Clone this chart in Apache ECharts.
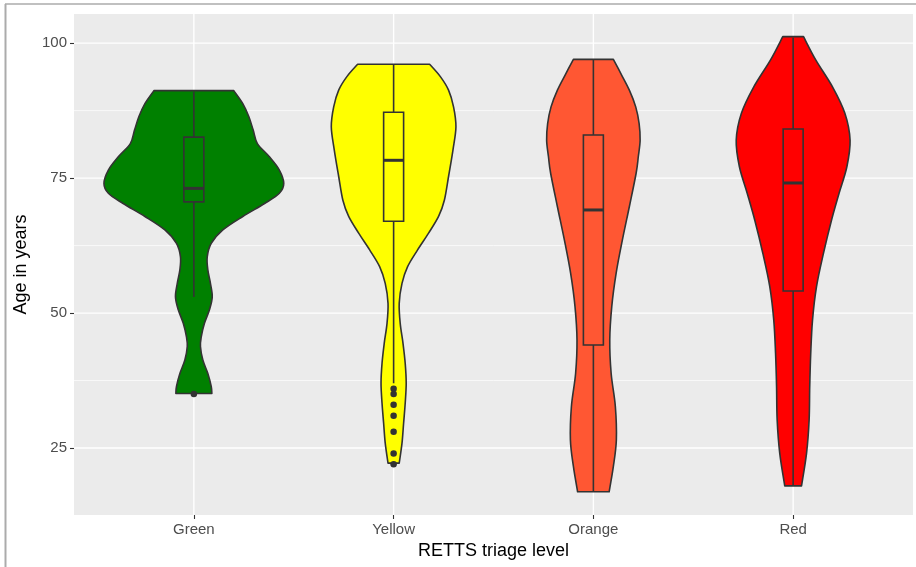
<!DOCTYPE html>
<html>
<head>
<meta charset="utf-8">
<title>Age by RETTS triage level</title>
<script src="https://cdn.jsdelivr.net/npm/echarts@6/dist/echarts.min.js"></script>
<style>
  html, body { margin: 0; padding: 0; background: #ffffff; }
  #chart { width: 916px; height: 567px; }
</style>
</head>
<body>
<div id="chart"></div>
<script>
// Triage levels on the x axis, in order
const categories = ['Green', 'Yellow', 'Orange', 'Red'];
const fillColors = ['#008000', '#FFFF00', '#FF5733', '#FF0000'];

// Violin outlines: age (years) and half-width (in category units), top to bottom
const greenAges = [91.2, 88.8, 86.4, 83.9, 81.4, 79.0, 76.5, 74.0, 72.2, 70.3, 67.9, 65.4, 62.9, 60.4, 58.0, 55.5, 53.0, 50.6, 48.1, 45.6, 43.8, 41.3, 38.8, 36.4, 35.1];
const greenHalfWidth = [0.200, 0.245, 0.275, 0.297, 0.318, 0.377, 0.428, 0.450, 0.428, 0.354, 0.245, 0.145, 0.087, 0.067, 0.070, 0.083, 0.092, 0.078, 0.053, 0.037, 0.033, 0.045, 0.070, 0.087, 0.090];

const yellowAges = [96.1, 93.8, 91.3, 88.2, 84.5, 80.2, 75.3, 70.9, 67.9, 64.8, 61.7, 58.6, 55.5, 51.8, 48.1, 44.4, 40.7, 37.0, 33.3, 29.6, 25.9, 22.2];
const yellowHalfWidth = [0.180, 0.234, 0.275, 0.300, 0.312, 0.297, 0.275, 0.254, 0.225, 0.175, 0.120, 0.070, 0.042, 0.028, 0.033, 0.047, 0.058, 0.063, 0.058, 0.050, 0.042, 0.028];

const orangeAges = [97.0, 94.4, 91.3, 88.2, 85.1, 82.0, 79.0, 75.9, 69.7, 63.5, 57.4, 51.2, 45.0, 38.8, 32.7, 26.5, 21.6, 16.9];
const orangeHalfWidth = [0.100, 0.137, 0.180, 0.212, 0.229, 0.234, 0.225, 0.214, 0.180, 0.145, 0.114, 0.092, 0.082, 0.089, 0.110, 0.115, 0.100, 0.079];

const redAges = [101.2, 96.9, 91.9, 87.0, 82.0, 77.1, 72.2, 67.2, 61.1, 54.9, 48.7, 42.5, 36.4, 30.2, 24.0, 18.0];
const redHalfWidth = [0.052, 0.113, 0.197, 0.259, 0.285, 0.269, 0.230, 0.192, 0.152, 0.117, 0.097, 0.088, 0.083, 0.080, 0.067, 0.042];

// Boxplot statistics per triage level
const whiskerLow = [53, 37, 17, 18];
const quartile1 = [70.6, 67.0, 44.1, 54.1];
const medians = [73.1, 78.3, 69.1, 74.1];
const quartile3 = [82.6, 87.2, 83.0, 84.1];
const whiskerHigh = [91, 96, 97, 101];

// Outlying ages drawn as points
const greenOutliers = [35];
const yellowOutliers = [36, 35, 33, 31, 28, 24, 22];

// Axis breaks
const yBreaks = [25, 50, 75, 100];
const yMinorBreaks = [37.5, 62.5, 87.5];
const xBreaks = [1, 2, 3, 4];

const violinAges = [greenAges, yellowAges, orangeAges, redAges];
const violinHalfWidths = [greenHalfWidth, yellowHalfWidth, orangeHalfWidth, redHalfWidth];

const outlineColor = '#333333';
const BOX_HALF = 0.05;
const LINE_W = 1.6;

// Catmull-Rom curve through pixel points, as cubic Bezier path commands
function smoothSide(pts) {
  let d = '';
  const n = pts.length;
  for (let i = 0; i < n - 1; i++) {
    const p0 = pts[Math.max(i - 1, 0)], p1 = pts[i], p2 = pts[i + 1], p3 = pts[Math.min(i + 2, n - 1)];
    const c1x = p1[0] + (p2[0] - p0[0]) / 6, c1y = p1[1] + (p2[1] - p0[1]) / 6;
    const c2x = p2[0] - (p3[0] - p1[0]) / 6, c2y = p2[1] - (p3[1] - p1[1]) / 6;
    d += ' C' + c1x + ',' + c1y + ' ' + c2x + ',' + c2y + ' ' + p2[0] + ',' + p2[1];
  }
  return d;
}

function renderViolin(params, api) {
  const i = params.dataIndex;
  const pos = api.value(0);
  const ages = violinAges[i];
  const hw = violinHalfWidths[i];
  const right = ages.map((a, k) => api.coord([pos + hw[k], a]));
  const leftUp = ages.map((a, k) => api.coord([pos - hw[k], a])).reverse();
  const top = leftUp[leftUp.length - 1];
  let d = 'M' + top[0] + ',' + top[1] + ' L' + right[0][0] + ',' + right[0][1];
  d += smoothSide(right);
  d += ' L' + leftUp[0][0] + ',' + leftUp[0][1];
  d += smoothSide(leftUp);
  d += ' Z';
  return {
    type: 'path',
    shape: { pathData: d },
    style: { fill: fillColors[i], stroke: outlineColor, lineWidth: LINE_W, lineJoin: 'round' }
  };
}

function renderBox(params, api) {
  const i = params.dataIndex;
  const x = api.value(0);
  const lo = api.coord([x, api.value(1)]);
  const b1 = api.coord([x - BOX_HALF, api.value(2)]);
  const med1 = api.coord([x - BOX_HALF, api.value(3)]);
  const med2 = api.coord([x + BOX_HALF, api.value(3)]);
  const b3 = api.coord([x + BOX_HALF, api.value(4)]);
  const hi = api.coord([x, api.value(5)]);
  const q1c = api.coord([x, api.value(2)]);
  const q3c = api.coord([x, api.value(4)]);
  const lineStyle = { stroke: outlineColor, lineWidth: LINE_W };
  return {
    type: 'group',
    children: [
      { type: 'line', shape: { x1: hi[0], y1: hi[1], x2: q3c[0], y2: q3c[1] }, style: lineStyle },
      { type: 'line', shape: { x1: q1c[0], y1: q1c[1], x2: lo[0], y2: lo[1] }, style: lineStyle },
      {
        type: 'rect',
        shape: { x: b1[0], y: b3[1], width: b3[0] - b1[0], height: b1[1] - b3[1] },
        style: { fill: fillColors[i], stroke: outlineColor, lineWidth: LINE_W }
      },
      { type: 'line', shape: { x1: med1[0], y1: med1[1], x2: med2[0], y2: med2[1] }, style: { stroke: outlineColor, lineWidth: 3 } }
    ]
  };
}

// Panel grid lines spanning the whole plotting area
function hLines(width) {
  return function (params, api) {
    const rect = params.coordSys;
    const y = api.coord([0.4, api.value(0)])[1];
    return { type: 'line', shape: { x1: rect.x, y1: y, x2: rect.x + rect.width, y2: y }, style: { stroke: '#ffffff', lineWidth: width } };
  };
}
function vLines(width) {
  return function (params, api) {
    const rect = params.coordSys;
    const x = api.coord([api.value(0), 50])[0];
    return { type: 'line', shape: { x1: x, y1: rect.y, x2: x, y2: rect.y + rect.height }, style: { stroke: '#ffffff', lineWidth: width } };
  };
}

const chart = echarts.init(document.getElementById('chart'), null, { renderer: 'canvas' });

chart.setOption({
  animation: false,
  backgroundColor: '#ffffff',
  textStyle: { fontFamily: 'Liberation Sans, Arial, sans-serif' },
  grid: {
    left: 74, right: 3, top: 14, bottom: 52,
    show: true, backgroundColor: '#EBEBEB', borderWidth: 0
  },
  xAxis: {
    type: 'value', min: 0.4, max: 4.6,
    axisLine: { show: false },
    splitLine: { show: false },
    axisTick: { show: true, customValues: xBreaks, length: 4, lineStyle: { color: outlineColor, width: 1.1 } },
    axisLabel: {
      customValues: xBreaks, margin: 7, color: '#4D4D4D', fontSize: 15,
      formatter: (v) => categories[Math.round(v) - 1]
    },
    name: 'RETTS triage level', nameLocation: 'middle', nameGap: 25,
    nameTextStyle: { color: '#000000', fontSize: 18 }
  },
  yAxis: {
    type: 'value', min: 12.6, max: 105.4,
    axisLine: { show: false },
    splitLine: { show: false },
    axisTick: { show: true, customValues: yBreaks, length: 4, lineStyle: { color: outlineColor, width: 1.1 } },
    axisLabel: { customValues: yBreaks, margin: 7, color: '#4D4D4D', fontSize: 15 },
    name: 'Age in years', nameLocation: 'middle', nameGap: 44, nameRotate: 90,
    nameTextStyle: { color: '#000000', fontSize: 18 }
  },
  graphic: [
    { type: 'line', silent: true, shape: { x1: 5.5, y1: 4, x2: 5.5, y2: 567 }, style: { stroke: '#ABABAB', lineWidth: 2 } },
    { type: 'line', silent: true, shape: { x1: 5, y1: 4, x2: 916, y2: 4 }, style: { stroke: '#ABABAB', lineWidth: 1.5 } }
  ],
  series: [
    { type: 'custom', name: 'minor', z: 0, silent: true, renderItem: hLines(0.7), data: yMinorBreaks.map(v => [v]), encode: { y: 0 } },
    { type: 'custom', name: 'major', z: 0, silent: true, renderItem: hLines(1.4), data: yBreaks.map(v => [v]), encode: { y: 0 } },
    { type: 'custom', name: 'xgrid', z: 0, silent: true, renderItem: vLines(1.4), data: xBreaks.map(v => [v]), encode: { x: 0 } },
    {
      type: 'custom', name: 'violin', z: 2, renderItem: renderViolin,
      data: categories.map((c, i) => [i + 1]), encode: { x: 0 }
    },
    {
      type: 'custom', name: 'box', z: 3, renderItem: renderBox,
      data: categories.map((c, i) => [i + 1, whiskerLow[i], quartile1[i], medians[i], quartile3[i], whiskerHigh[i]]),
      encode: { x: 0, y: [1, 2, 3, 4, 5] }
    },
    {
      type: 'scatter', name: 'outliers', z: 4, symbol: 'circle', symbolSize: 6.5,
      itemStyle: { color: outlineColor, opacity: 1 },
      data: greenOutliers.map(v => [1, v]).concat(yellowOutliers.map(v => [2, v]))
    }
  ]
});
</script>
</body>
</html>
